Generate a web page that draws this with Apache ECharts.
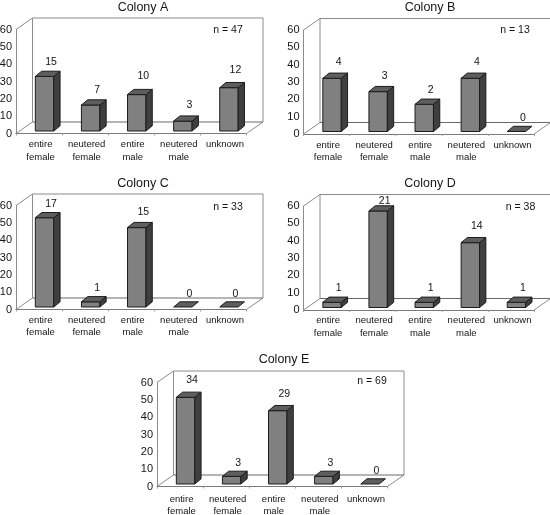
<!DOCTYPE html>
<html>
<head>
<meta charset="utf-8">
<script src="https://cdn.jsdelivr.net/npm/echarts@6/dist/echarts.min.js"></script>
<style>html,body{margin:0;padding:0;background:#fff;overflow:hidden}#c{width:550px;height:515px}</style>
</head>
<body>
<div id="c"></div>
<script>
// --- data ---
const categories = ['entire\nfemale', 'neutered\nfemale', 'entire\nmale', 'neutered\nmale', 'unknown'];
const yTicks = { min: 0, max: 60, interval: 10 };
const colonyNames = ['Colony A', 'Colony B', 'Colony C', 'Colony D', 'Colony E'];
const sampleSizes = [47, 13, 33, 38, 69];
const percentA = [31.5, 15, 21, 5.7, 25];
const percentB = [30.7, 23, 15.7, 30.7, 0];
const percentC = [51.5, 3, 45.8, 0, 0];
const percentD = [3, 55.7, 3, 37.4, 3];
const percentE = [50, 4.4, 42.3, 4.4, 0];
const countsA = [15, 7, 10, 3, 12];
const countsB = [4, 3, 2, 4, 0];
const countsC = [17, 1, 15, 0, 0];
const countsD = [1, 21, 1, 14, 1];
const countsE = [34, 3, 29, 3, 0];
const percents = [percentA, percentB, percentC, percentD, percentE];
const counts = [countsA, countsB, countsC, countsD, countsE];

// --- layout / style (not data) ---
const FONT = '"Liberation Sans", Arial, sans-serif';
const TEXT = '#151515';
const WALL = '#8c8c8c';
const panels = [
  { left: 16,    top: 29.5,  titleX: 143, titleY: 8,   nX: 228, nY: 30,  catMargin: 5,   lift: [14, 15, 18.5, 16.5, 18] },
  { left: 303.5, top: 30,    titleX: 430, titleY: 8,   nX: 515, nY: 30,  catMargin: 5,   lift: [16, 15.5, 14.5, 16, 13] },
  { left: 16,    top: 205.5, titleX: 143, titleY: 184, nX: 228, nY: 207, catMargin: 4.5, lift: [14, 14, 16, 13, 13] },
  { left: 303.5, top: 206,   titleX: 430, titleY: 184, nX: 520.5, nY: 207, catMargin: 4.5, lift: [14.5, 10, 14.5, 17, 14.5] },
  { left: 157,   top: 382.5, titleX: 284, titleY: 360, nX: 372, nY: 381, catMargin: 6.5, lift: [17, 13, 16.5, 13, 12.5] }
];
const PLOT_W = 230.5, PLOT_H = 104;
const WALL_DX = 16.5, WALL_DY = 11.5;      // depth of the back wall
const BAR_DX = 5.5, BAR_DY = 2.5;          // front face offset from the axis plane
const DEPTH_X = 6.3, DEPTH_Y = 5.2;        // depth of each bar
const BAR_FRAC = 0.4;

function wallItem(params) {
  const c = params.coordSys;
  const x0 = c.x, x1 = c.x + c.width, yT = c.y, yB = c.y + c.height;
  const line = (pts, color, width) => ({
    type: 'polyline', shape: { points: pts },
    style: { stroke: color, lineWidth: width || 1, fill: null }, silent: true
  });
  return {
    type: 'group',
    children: [
      line([[x0, yB], [x0 + WALL_DX, yB - WALL_DY], [x0 + WALL_DX, yT - WALL_DY], [x1 + WALL_DX, yT - WALL_DY], [x1 + WALL_DX, yB - WALL_DY], [x1, yB]], WALL),
      line([[x0, yT], [x0 + WALL_DX, yT - WALL_DY]], WALL),
      line([[x0 + WALL_DX, yB - WALL_DY], [x1 + WALL_DX, yB - WALL_DY]], '#6a6a6a')
    ]
  };
}

function barItem(panelIndex) {
  return function (params, api) {
    const i = api.value(0), v = api.value(1), n = api.value(2);
    const base = api.coord([i, 0]), top = api.coord([i, v]);
    const w = api.size([1, 0])[0] * BAR_FRAC;
    const xL = base[0] + BAR_DX - w / 2, xR = xL + w;
    const yB = base[1] - BAR_DY, yT = top[1] - BAR_DY;
    const edge = { stroke: '#1c1c1c', lineWidth: 1, lineJoin: 'round' };
    const poly = (pts, fill) => ({
      type: 'polygon', shape: { points: pts },
      style: Object.assign({ fill: fill }, edge)
    });
    const children = [];
    if (v > 0) {
      children.push(poly([[xL, yB], [xR, yB], [xR, yT], [xL, yT]], '#808080'));
      children.push(poly([[xR, yB], [xR + DEPTH_X, yB - DEPTH_Y], [xR + DEPTH_X, yT - DEPTH_Y], [xR, yT]], '#3f3f3f'));
    }
    children.push(poly([[xL, yT], [xR, yT], [xR + DEPTH_X, yT - DEPTH_Y], [xL + DEPTH_X, yT - DEPTH_Y]], '#5e5e5e'));
    children.push({
      type: 'text',
      style: {
        text: String(n), x: (xL + xR) / 2 + 6.5, y: yT - panels[panelIndex].lift[i],
        align: 'center', verticalAlign: 'middle',
        fontFamily: FONT, fontSize: 10.5, fill: TEXT
      }
    });
    return { type: 'group', children: children };
  };
}

const option = { backgroundColor: '#fff', animation: false, grid: [], xAxis: [], yAxis: [], series: [], title: [] };

panels.forEach((p, k) => {
  option.grid.push({ left: p.left, top: p.top, width: PLOT_W, height: PLOT_H, containLabel: false, outerBoundsMode: 'none' });
  option.xAxis.push({
    gridIndex: k, type: 'category', data: categories,
    axisLine: { show: true, lineStyle: { color: '#7a7a7a', width: 1 } },
    axisTick: { show: true, length: 2, lineStyle: { color: '#a0a0a0' } },
    axisLabel: { fontFamily: FONT, fontSize: 9.5, color: TEXT, margin: p.catMargin, lineHeight: 12.5, interval: 0, padding: [0, 0, 0, 3] },
    splitLine: { show: false }
  });
  option.yAxis.push({
    gridIndex: k, type: 'value', min: yTicks.min, max: yTicks.max, interval: yTicks.interval,
    axisLine: { show: true, lineStyle: { color: WALL, width: 1 } },
    axisTick: { show: false },
    axisLabel: { fontFamily: FONT, fontSize: 11, color: TEXT, margin: 4, padding: [6, 0, 0, 0] },
    splitLine: { show: false }
  });
  option.series.push({
    type: 'custom', xAxisIndex: k, yAxisIndex: k, clip: false, z: 1, silent: true,
    data: [[0, 0]], encode: { x: 0, y: 1 }, renderItem: wallItem
  });
  option.series.push({
    type: 'custom', xAxisIndex: k, yAxisIndex: k, clip: false, z: 5, silent: true,
    data: percents[k].map((v, i) => [i, v, counts[k][i]]),
    encode: { x: 0, y: 1 }, renderItem: barItem(k)
  });
  option.title.push({
    text: colonyNames[k], left: p.titleX, top: p.titleY, padding: 0, itemGap: 0,
    textAlign: 'center', textVerticalAlign: 'middle',
    textStyle: { fontFamily: FONT, fontSize: 12.5, fontWeight: 'normal', color: TEXT }
  });
  option.title.push({
    text: 'n = ' + sampleSizes[k], left: p.nX, top: p.nY, padding: 0, itemGap: 0,
    textAlign: 'center', textVerticalAlign: 'middle',
    textStyle: { fontFamily: FONT, fontSize: 10.5, fontWeight: 'normal', color: TEXT }
  });
});

echarts.init(document.getElementById('c'), null, { renderer: 'canvas' }).setOption(option);
</script>
</body>
</html>
